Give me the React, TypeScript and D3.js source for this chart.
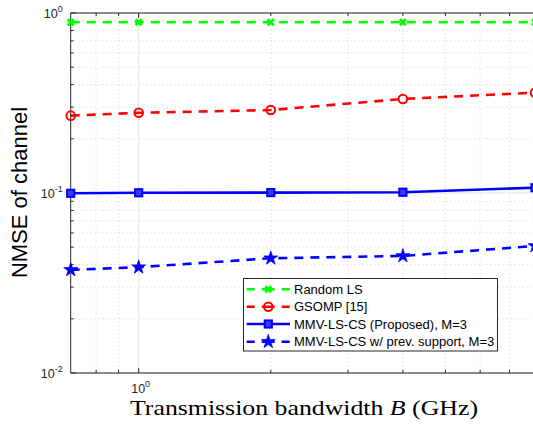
import React from "react";
import * as d3 from "d3";

// bandwidth (GHz)
const bandwidth = [0.7, 1, 2, 4, 8];
// NMSE values per scheme
const randomLS = [0.888, 0.888, 0.888, 0.888, 0.888];
const gsomp = [0.269, 0.279, 0.289, 0.333, 0.361];
const mmvProposed = [0.0996, 0.1003, 0.1005, 0.101, 0.107];
const mmvPrev = [0.0374, 0.0387, 0.0434, 0.0447, 0.0508];

const seriesNames = [
  "Random LS",
  "GSOMP [15]",
  "MMV-LS-CS (Proposed), M=3",
  "MMV-LS-CS w/ prev. support, M=3",
];

const yMajor = [0.01, 0.1, 1];
const yMajorExp = ["-2", "-1", "0"];
const xMajor = [1];
const xMajorExp = ["0"];

const W = 533;
const H = 425;
const left = 70.7;
const right = 535;
const top = 13;
const bottom = 373;

const axisColor = "#262626";
const sans = "'Liberation Sans', Arial, Helvetica, sans-serif";

export default function App() {
  const x = d3.scaleLog().domain([0.7, 8]).range([left, right]);
  const y = d3.scaleLog().domain([0.01, 1]).range([bottom, top]);

  const xMinor: number[] = [0.8, 0.9, 2, 3, 4, 5, 6, 7, 8];
  const yMinor: number[] = [];
  [0.01, 0.1].forEach((d) => {
    for (let k = 2; k <= 9; k++) yMinor.push(d * k);
  });

  const line = d3
    .line<number>()
    .x((_, i) => x(bandwidth[i]))
    .y((d) => y(d));

  const series = [
    { data: randomLS, color: "#00ff00", dash: "9,7", marker: "x" },
    { data: gsomp, color: "#ff0000", dash: "9,7", marker: "o" },
    { data: mmvProposed, color: "#0000ff", dash: "", marker: "s" },
    { data: mmvPrev, color: "#0000ff", dash: "9,7", marker: "star" },
  ];

  const starPath = d3.symbol().type(d3.symbolStar).size(60)() as string;

  const marker = (type: string, color: string, cx: number, cy: number, key: any) => {
    const t = `translate(${cx},${cy})`;
    if (type === "x")
      return (
        <path key={key} transform={t} d="M-3,-3L3,3M-3,3L3,-3" stroke={color} strokeWidth={2.8} fill="none" />
      );
    if (type === "o")
      return <circle key={key} cx={cx} cy={cy} r={4.3} stroke={color} strokeWidth={2} fill="none" />;
    if (type === "s")
      return (
        <rect key={key} x={cx - 3.6} y={cy - 3.6} width={7.2} height={7.2} stroke={color} strokeWidth={2} fill="#3a3aff" />
      );
    return <path key={key} transform={t} d={starPath} fill={color} stroke={color} strokeWidth={0.8} />;
  };

  const legendX = 243.5;
  const legendY = 278.5;
  const legendW = 254;
  const legendH = 72.5;
  const rowY = [289.3, 306.7, 324, 341.7];

  return (
    <svg
      width={W}
      height={H}
      style={{ position: "absolute", left: 0, top: 0, background: "#fff" }}
    >
      <rect x={0} y={0} width={W} height={H} fill="#fff" />
      {/* minor grid */}
      {xMinor.map((d) => (
        <line key={"gx" + d} x1={x(d)} x2={x(d)} y1={top} y2={bottom} stroke="#c8c8c8" strokeWidth={0.8} strokeDasharray="1,3" />
      ))}
      {yMinor.map((d) => (
        <line key={"gy" + d} x1={left} x2={right} y1={y(d)} y2={y(d)} stroke="#c8c8c8" strokeWidth={0.8} strokeDasharray="1,3" />
      ))}
      {/* major grid */}
      {xMajor.map((d) => (
        <line key={"Gx" + d} x1={x(d)} x2={x(d)} y1={top} y2={bottom} stroke="#e3e3e3" strokeWidth={1} />
      ))}
      {yMajor.map((d) => (
        <line key={"Gy" + d} x1={left} x2={right} y1={y(d)} y2={y(d)} stroke="#e3e3e3" strokeWidth={1} />
      ))}

      {/* axes box */}
      <line x1={left} x2={right} y1={top} y2={top} stroke={axisColor} strokeWidth={1} />
      <line x1={left} x2={right} y1={bottom} y2={bottom} stroke={axisColor} strokeWidth={1} />
      <line x1={left} x2={left} y1={top} y2={bottom} stroke={axisColor} strokeWidth={1} />

      {/* ticks */}
      {xMajor.concat(xMinor).map((d) => {
        const len = xMajor.includes(d) ? 5 : 3;
        return (
          <g key={"tx" + d}>
            <line x1={x(d)} x2={x(d)} y1={bottom} y2={bottom - len} stroke={axisColor} />
            <line x1={x(d)} x2={x(d)} y1={top} y2={top + len} stroke={axisColor} />
          </g>
        );
      })}
      {yMajor.concat(yMinor).map((d) => {
        const len = yMajor.includes(d) ? 5 : 3;
        return <line key={"ty" + d} x1={left} x2={left + len} y1={y(d)} y2={y(d)} stroke={axisColor} />;
      })}

      {/* tick labels */}
      {yMajor.map((d, i) => (
        <text key={"ly" + d} x={left - 8} y={y(d) + 5} textAnchor="end" fontFamily={sans} fontSize={12.5} fill={axisColor}>
          10
          <tspan dy={-6} fontSize={9}>
            {yMajorExp[i]}
          </tspan>
        </text>
      ))}
      {xMajor.map((d, i) => (
        <text key={"lx" + d} x={x(d) + 2} y={bottom + 20} textAnchor="middle" fontFamily={sans} fontSize={12.5} fill={axisColor}>
          10
          <tspan dy={-6} fontSize={9}>
            {xMajorExp[i]}
          </tspan>
        </text>
      ))}

      {/* series */}
      {series.map((s, si) => (
        <g key={"s" + si}>
          <path d={line(s.data) as string} fill="none" stroke={s.color} strokeWidth={2.6} strokeDasharray={s.dash || undefined} />
          {s.data.map((v, i) => marker(s.marker, s.color, x(bandwidth[i]), y(v), i))}
        </g>
      ))}

      {/* legend */}
      <rect x={legendX} y={legendY} width={legendW} height={legendH} fill="#fff" stroke="#262626" strokeWidth={1} />
      {series.map((s, i) => (
        <g key={"lg" + i}>
          <line
            x1={246.7}
            x2={290}
            y1={rowY[i]}
            y2={rowY[i]}
            stroke={s.color}
            strokeWidth={2.6}
            strokeDasharray={s.dash ? "8,7,13,7,8" : undefined}
          />
          {marker(s.marker, s.color, 268.3, rowY[i], "m")}
          <text x={294} y={rowY[i] + 4.5} fontFamily={sans} fontSize={13} fill="#000">
            {seriesNames[i]}
          </text>
        </g>
      ))}

      {/* axis titles */}
      <text
        transform={`translate(27,192.5) rotate(-90)`}
        textAnchor="middle"
        fontFamily={sans}
        fontSize={22}
        fill="#000"
      >
        NMSE of channel
      </text>
      <text
        x={304}
        y={415}
        textAnchor="middle"
        fontFamily="'Liberation Serif', 'Times New Roman', serif"
        fontSize={22}
        fill="#000"
        textLength={348}
        lengthAdjust="spacingAndGlyphs"
      >
        Transmission bandwidth <tspan fontStyle="italic">B</tspan> (GHz)
      </text>
    </svg>
  );
}
